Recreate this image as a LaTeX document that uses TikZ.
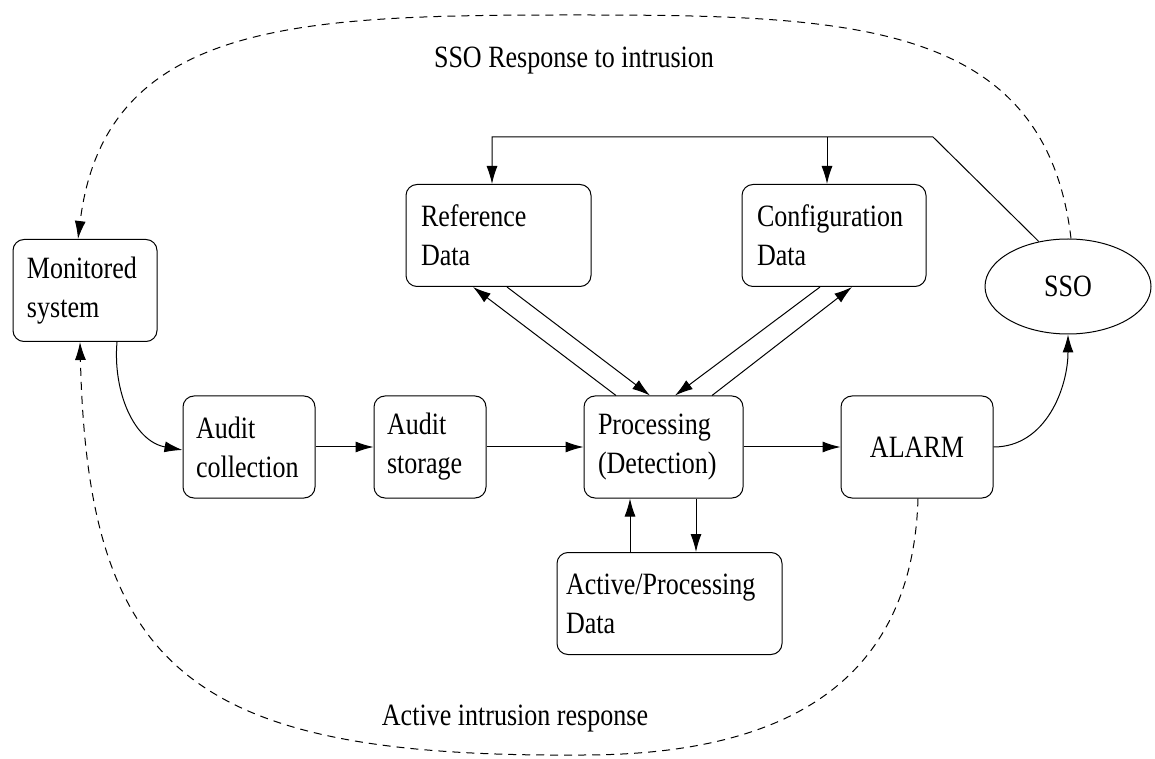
\documentclass[tikz,border=0pt]{standalone}
\usepackage{fontspec}
\setmainfont[FakeStretch=0.84]{Liberation Serif}
\usetikzlibrary{arrows.meta,shapes.geometric}
\tikzset{
	blk/.style={draw,rounded corners=11pt,minimum height=102pt,inner xsep=14pt,inner ysep=0pt,align=left},
	flow/.style={-{Latex[length=18pt,width=11pt]}},
	resp/.style={flow,dash pattern=on 8pt off 6pt},
}
\begin{document}
\begin{tikzpicture}[x=1pt,y=1pt,line width=1pt,font=\fontsize{31}{39}\selectfont]
	\useasboundingbox (0,0) rectangle (1155,758);
	% boxes
	\node[blk,text width=116pt] (mon) at (85,467.5) {Monitored\\system};
	\node[blk,text width=106pt,inner xsep=13pt] (acol) at (249,311) {Audit\\collection};
	\node[blk,text width=86pt,inner xsep=13pt] (asto) at (430,311) {Audit\\storage};
	\node[blk,text width=131pt] (proc) at (663.5,311) {Processing\\(Detection)};
	\node[blk,text width=124pt,align=center] (alarm) at (917,311) {ALARM};
	\node[blk,text width=155pt,inner xsep=15pt] (ref) at (498.5,522.5) {Reference\\Data};
	\node[blk,text width=154pt,inner xsep=15pt] (cfg) at (834,522.5) {Configuration\\Data};
	\node[blk,text width=207pt,inner xsep=9pt] (act) at (669.5,154.5) {Active/Processing\\Data};
	\node[draw,ellipse,minimum width=166pt,minimum height=95pt,inner sep=0pt] (sso) at (1068,471.5) {SSO};
	% labels
	\node[anchor=base] (ssolbl) at (574,690) {SSO Response to intrusion};
	\node[anchor=base] (actlbl) at (515,33) {Active intrusion response};
	% audit flow
	\draw[flow] ([xshift=32pt]mon.south) to[out=-95,in=170] ([yshift=-3pt]acol.west);
	\draw[flow] (acol) -- (asto);
	\draw[flow] (asto) -- (proc);
	\draw[flow] (proc) -- (alarm);
	\draw[flow] (alarm.east) to[out=0,in=-90] (sso.south);
	% data stores
	\draw[flow] ([xshift=-47.5pt]proc.north) -- ([xshift=-25.5pt]ref.south);
	\draw[flow] ([xshift=8.5pt]ref.south) -- ([xshift=-13.5pt]proc.north);
	\draw[flow] ([xshift=-14pt]cfg.south) -- ([xshift=11.5pt]proc.north);
	\draw[flow] ([xshift=48.5pt]proc.north) -- ([xshift=18pt]cfg.south);
	\draw[flow] ([xshift=-39.5pt]act.north) -- ([xshift=-33.5pt]proc.south);
	\draw[flow] ([xshift=32.5pt]proc.south) -- ([xshift=26.5pt]act.north);
	% SSO updates
	\coordinate (kink) at (933,621);
	\coordinate (tap) at (827,621);
	\draw[flow] (sso.123) -- (kink) -| ([xshift=-6.5pt]ref.north);
	\draw[flow] (tap) -- (tap |- cfg.north);
	% responses
	\draw[resp] ([xshift=3pt]sso.north) .. controls (1045,738) and (850,743) .. (575,743) .. controls (300,743) and (105,738) .. ([xshift=-7pt]mon.north);
	\draw[resp] ([xshift=1pt]alarm.south) .. controls (912,58) and (760,3) .. (582,3) .. controls (190,0) and (88,88) .. ([xshift=-5pt]mon.south);
\end{tikzpicture}
\end{document}
